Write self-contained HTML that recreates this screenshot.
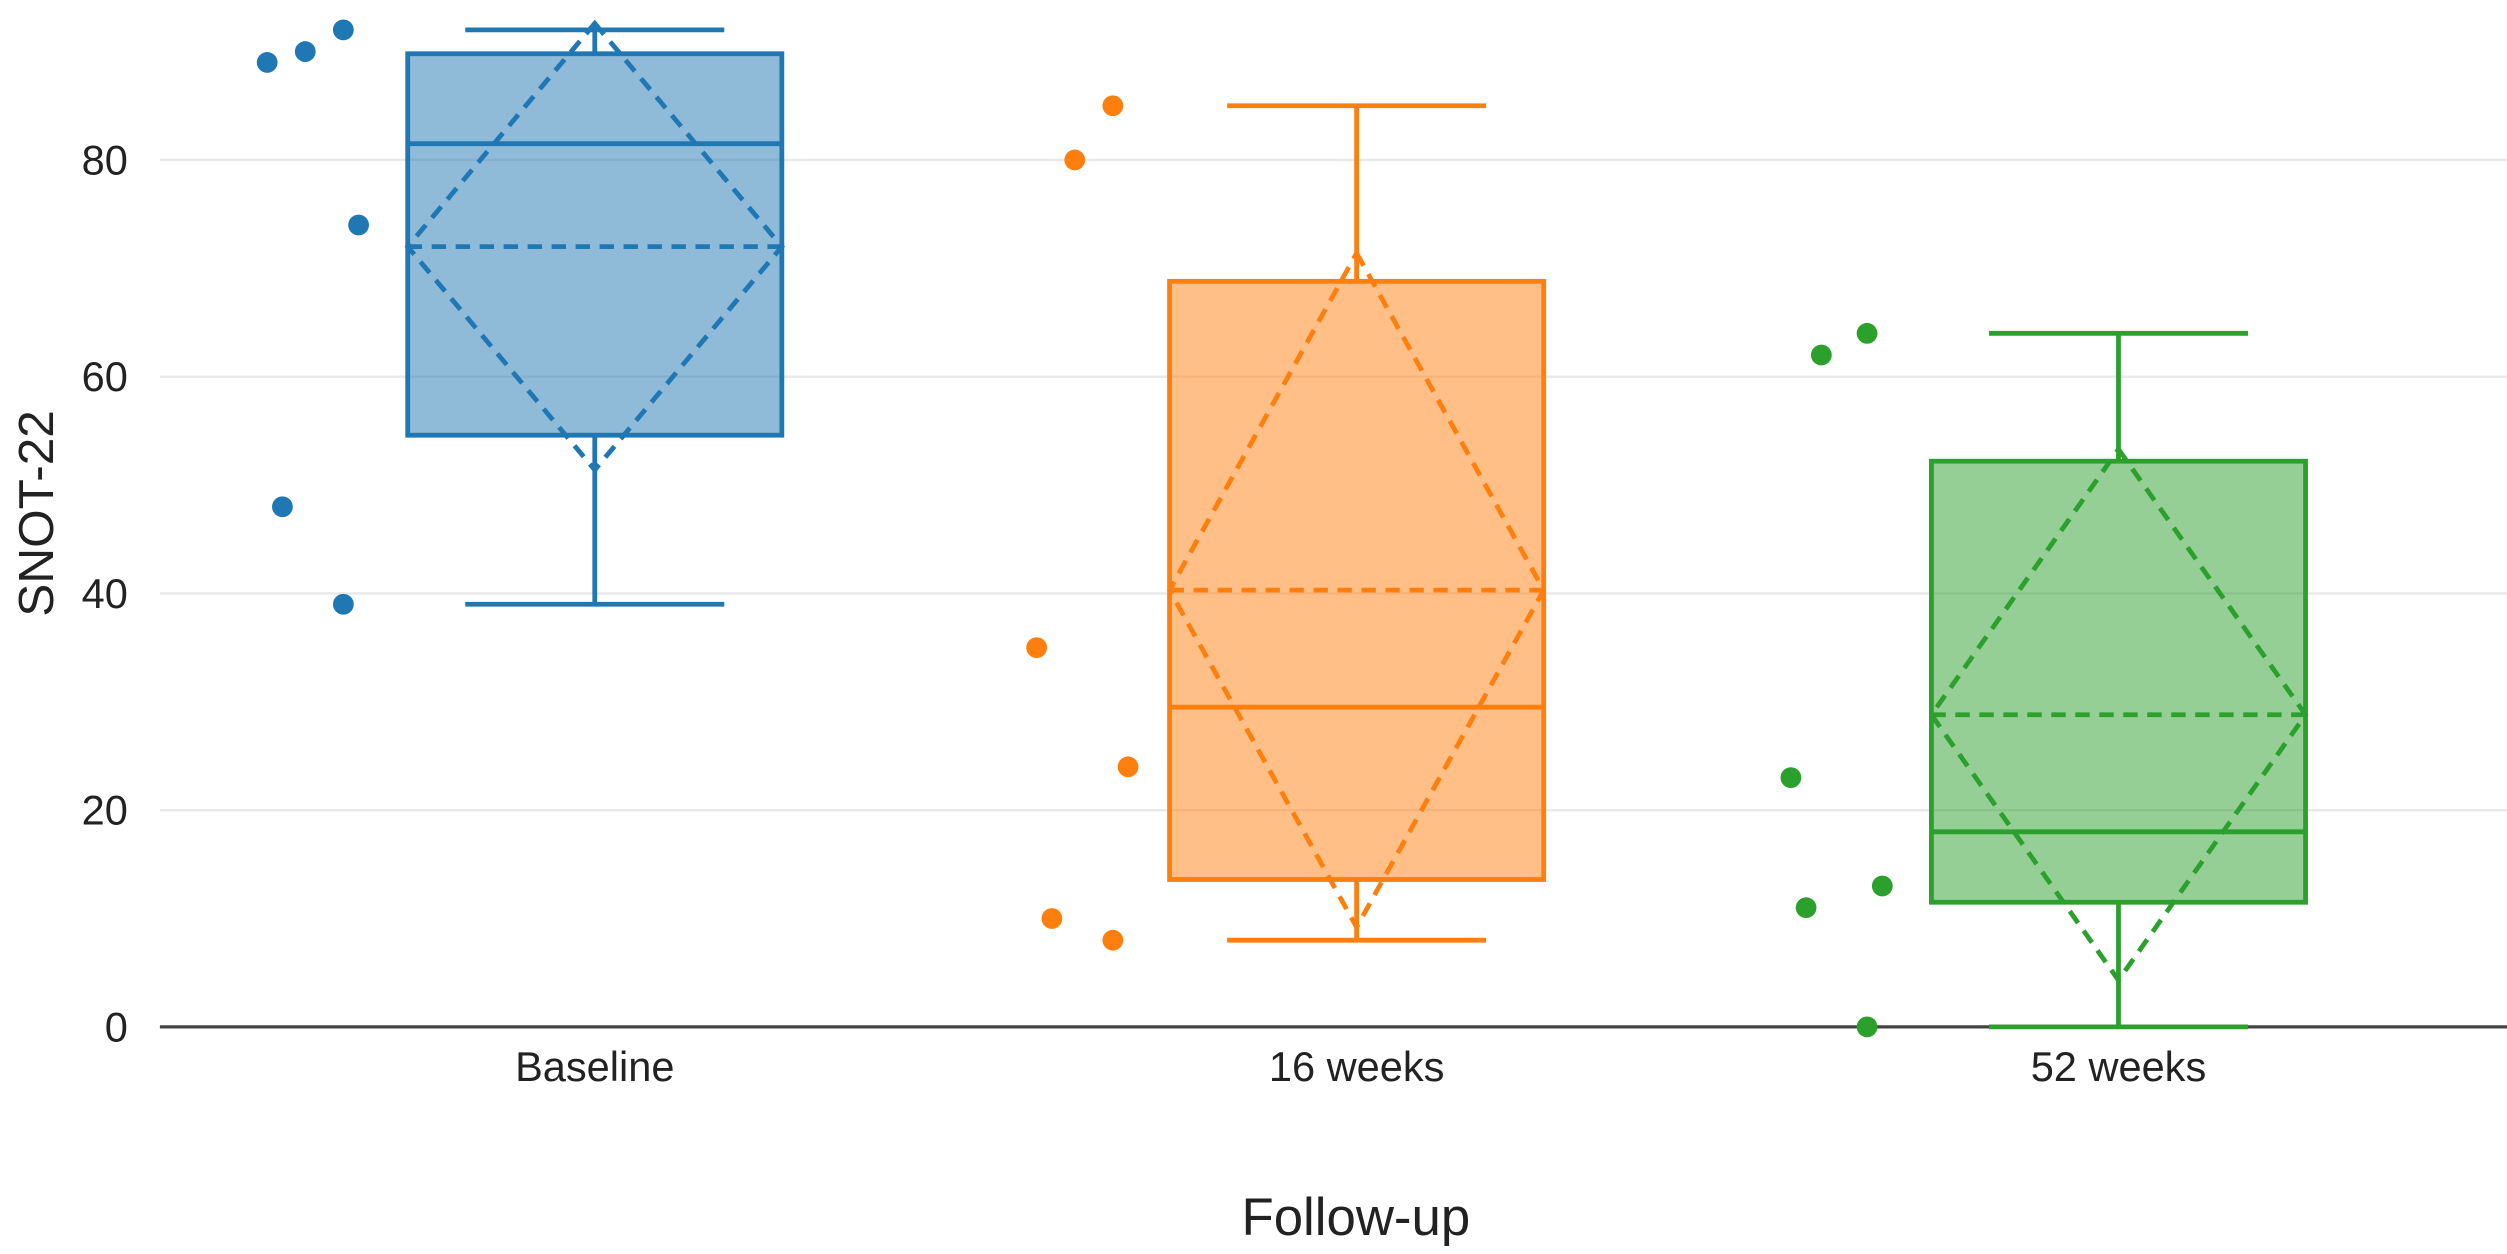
<!DOCTYPE html>
<html><head><meta charset="utf-8"><style>
html,body{margin:0;padding:0;background:#fff;}
svg{display:block;font-family:"Liberation Sans",Arial,sans-serif;}
</style></head><body>
<svg id="chart" width="2507" height="1254" viewBox="0 0 1568 784" preserveAspectRatio="none" xmlns="http://www.w3.org/2000/svg">
<g id="grid"></g>
<g id="yticks"></g>
<g id="boxes"></g>
<g id="xticks"></g>
<text x="848" y="772" font-size="33" text-anchor="middle" fill="#222">Follow-up</text>
<text transform="translate(33,321) rotate(-90)" font-size="31" text-anchor="middle" fill="#222">SNOT-22</text>
</svg>
<script>
const categories = ["Baseline", "16 weeks", "52 weeks"];
const colors = ["#1f77b4", "#ff7f0e", "#2ca02c"];
const q1 = [54.6, 13.6, 11.5];
const medians = [81.5, 29.5, 18];
const q3 = [89.8, 68.8, 52.2];
const whiskLow = [39, 8, 0];
const whiskHigh = [92, 85, 64];
const means = [72, 40.3, 28.8];
const sds = [20.6, 31.1, 24.5];
const points = [[89, 90, 92, 74, 48, 39], [85, 80, 35, 24, 10, 8], [62, 64, 23, 11, 13, 0]];
const jitter = [[-0.43, -0.38, -0.33, -0.31, -0.41, -0.33], [-0.32, -0.37, -0.42, -0.30, -0.40, -0.32], [-0.39, -0.33, -0.43, -0.41, -0.31, -0.33]];
const yTicks = [0, 20, 40, 60, 80];

const NS = "http://www.w3.org/2000/svg";
const y = v => 642 - v * 6.775;
const xc = i => 372 + i * 476.5;
const band = 476.5;
function mk(parent, tag, attrs) {
  const el = document.createElementNS(NS, tag);
  for (const k in attrs) el.setAttribute(k, attrs[k]);
  parent.appendChild(el);
  return el;
}
const grid = document.getElementById("grid");
const yt = document.getElementById("yticks");
yTicks.forEach(t => {
  if (t > 0) {
    const g = mk(grid, "line", {x1: 100, x2: 1568, y1: y(t), y2: y(t), stroke: "#e8e8e8", "stroke-width": 1.5});
    
    
  }
  const tx = mk(yt, "text", {x: 80, y: y(t) + 9, "font-size": 26, "text-anchor": "end", fill: "#222"});
  tx.textContent = t;
  
  
});
const zl = mk(grid, "line", {x1: 100, x2: 1568, y1: y(0), y2: y(0), stroke: "#444", "stroke-width": 2});



const boxes = document.getElementById("boxes");
const xt = document.getElementById("xticks");
categories.forEach((c, i) => {
  const col = colors[i], cx = xc(i), hw = 117, cw = 81;
  const g = mk(boxes, "g", {});
  
  
  mk(g, "line", {x1: cx, x2: cx, y1: y(whiskHigh[i]), y2: y(q3[i]), stroke: col, "stroke-width": 3});
  mk(g, "line", {x1: cx, x2: cx, y1: y(q1[i]), y2: y(whiskLow[i]), stroke: col, "stroke-width": 3});
  mk(g, "line", {x1: cx - cw, x2: cx + cw, y1: y(whiskHigh[i]), y2: y(whiskHigh[i]), stroke: col, "stroke-width": 3});
  mk(g, "line", {x1: cx - cw, x2: cx + cw, y1: y(whiskLow[i]), y2: y(whiskLow[i]), stroke: col, "stroke-width": 3});
  mk(g, "rect", {x: cx - hw, y: y(q3[i]), width: 2 * hw, height: y(q1[i]) - y(q3[i]), fill: col, "fill-opacity": 0.5, stroke: col, "stroke-width": 3});
  mk(g, "line", {x1: cx - hw, x2: cx + hw, y1: y(medians[i]), y2: y(medians[i]), stroke: col, "stroke-width": 3});
  const m = y(means[i]), top = y(means[i] + sds[i]), bot = y(means[i] - sds[i]);
  mk(g, "line", {x1: cx - hw, x2: cx + hw, y1: m, y2: m, stroke: col, "stroke-width": 3, "stroke-dasharray": "9,6"});
  mk(g, "polygon", {points: `${cx},${top} ${cx + hw},${m} ${cx},${bot} ${cx - hw},${m}`, fill: "none", stroke: col, "stroke-width": 3, "stroke-dasharray": "9,6"});
  points[i].forEach((v, j) => {
    const p = mk(g, "circle", {cx: cx + jitter[i][j] * band, cy: y(v), r: 6.5, fill: col});
    
    
  });
  const lbl = mk(xt, "text", {x: cx, y: 676, "font-size": 26, "text-anchor": "middle", fill: "#222"});
  lbl.textContent = c;
  
  
});
</script>
</body></html>
